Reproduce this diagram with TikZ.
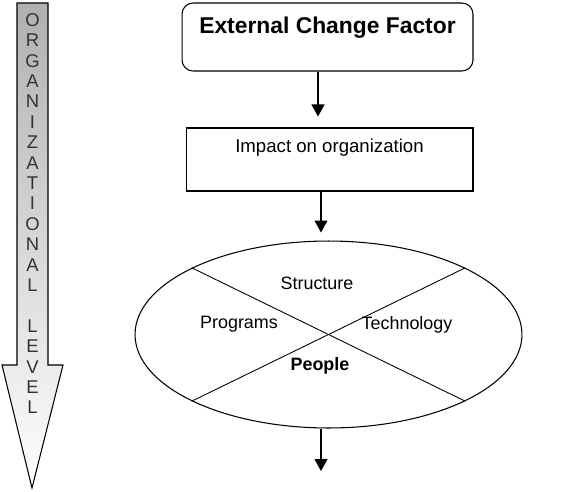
\documentclass[tikz,border=0pt]{standalone}
\usepackage{fontspec}
\setmainfont{Liberation Sans}
\usetikzlibrary{arrows.meta,shapes.geometric}
\tikzset{
    flow/.style={line width=0.6pt,-{Triangle[width=0.26cm,length=0.24cm]}},
    factorbox/.style={draw,line width=0.6pt,rounded corners=0.22cm,inner sep=0pt,
        minimum width=5.82cm,text height=0.6cm,text depth=0.76cm,font=\fontsize{13}{15}\selectfont\bfseries},
    impactbox/.style={draw,line width=0.6pt,inner sep=0pt,
        minimum width=5.74cm,text height=0.48cm,text depth=0.78cm,font=\fontsize{10.6}{12}\selectfont},
    part/.style={font=\fontsize{10.2}{12}\selectfont},
    levelchar/.style={font=\fontsize{10.5}{12}\selectfont,text=black!80,inner sep=0pt}
}
\begin{document}
\begin{tikzpicture}[x=0.02cm,y=-0.02cm]
        \useasboundingbox (0,0) rectangle (572,491);
        % organizational level arrow
        \draw [line width=0.6pt,top color=gray!62,bottom color=white]
            (17,3) -- (48,3) -- (48,365) -- (63,365) -- (32,488) -- (2,365) -- (17,365) -- cycle;
        \foreach \ch [count=\i from 0] in {O,R,G,A,N,I,Z,A,T,I,O,N,A,L,{},L,E,V,E,L}
            \node [levelchar] (lv\i) at (32.5,20+20.4*\i) {\ch};
        % boxes
        \node [factorbox] (ext) at (327.5,37) {External Change Factor};
        \node [impactbox] (imp) at (329.5,159.5) {Impact on organization};
        \draw [flow,shorten >=0.22cm] (ext.south -| 318,0) -- (imp.north -| 318,0);
        % ellipse with four parts
        \node [draw,ellipse,line width=0.6pt,inner sep=0pt,minimum width=7.74cm,minimum height=3.74cm] (ell) at (328.5,334.5) {};
        \draw [line width=0.5pt] (ell.154) -- (ell.334);
        \draw [line width=0.5pt] (ell.26) -- (ell.206);
        \draw [flow,shorten >=0.16cm] (imp.south -| 321,0) -- (ell.north -| 321,0);
        \node [part] (str) at (317,283) {Structure};
        \node [part] (prg) at (239,324) {Programs};
        \node [part] (tec) at (407,325) {Technology};
        \node [part,font=\fontsize{10.2}{12}\selectfont\bfseries] (ppl) at (320,366) {People};
        \coordinate (out) at (321,471);
        \draw [flow] (ell.south -| out) -- (out);
    \end{tikzpicture}
\end{document}
